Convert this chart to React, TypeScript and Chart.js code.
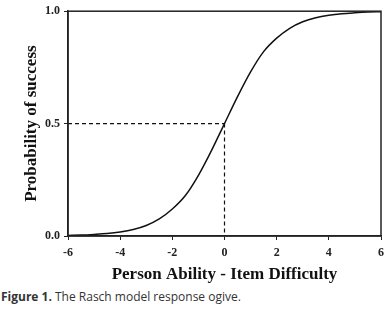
import React, { useEffect, useRef } from "react";
import { Chart, registerables } from "chart.js";

Chart.register(...registerables);

const abilityX = [-6, -5.5, -5, -4.5, -4, -3.5, -3, -2.5, -2, -1.5, -1, -0.5, 0, 0.5, 1, 1.5, 2, 2.5, 3, 3.5, 4, 4.5, 5, 5.5, 6];
const probY = [0.0025, 0.004, 0.007, 0.011, 0.018, 0.029, 0.047, 0.076, 0.12, 0.18, 0.27, 0.38, 0.5, 0.62, 0.73, 0.82, 0.88, 0.924, 0.953, 0.971, 0.982, 0.989, 0.993, 0.996, 0.9975];
const xTicks = [-6, -4, -2, 0, 2, 4, 6];
const yTicks = [0, 0.5, 1];
const guideH = [{ x: -6, y: 0.5 }, { x: 0, y: 0.5 }];
const guideV = [{ x: 0, y: 0.5 }, { x: 0, y: 0 }];
const xTitle = "Person Ability - Item Difficulty";
const yTitle = "Probability of success";

const boxPlugin = {
  id: "box",
  afterDraw(chart: any) {
    const { ctx, chartArea } = chart;
    ctx.save();
    ctx.strokeStyle = "#222";
    ctx.lineWidth = 1.5;
    ctx.strokeRect(chartArea.left, chartArea.top, chartArea.right - chartArea.left, chartArea.bottom - chartArea.top);
    ctx.restore();
  },
};

export default function App() {
  const ref = useRef<HTMLCanvasElement>(null);
  useEffect(() => {
    document.body.style.margin = "0";
    const serifBold = { family: "'Liberation Serif', 'Times New Roman', serif", weight: "bold" as const };
    const chart = new Chart(ref.current!, {
      type: "line",
      data: {
        datasets: [
          {
            data: abilityX.map((x, i) => ({ x, y: probY[i] })),
            borderColor: "#111",
            borderWidth: 1.5,
            pointRadius: 0,
            cubicInterpolationMode: "monotone",
          },
          { data: guideH, borderColor: "#111", borderWidth: 1.2, borderDash: [4, 3], pointRadius: 0 },
          { data: guideV, borderColor: "#111", borderWidth: 1.2, borderDash: [4, 3], pointRadius: 0 },
        ],
      },
      options: {
        animation: false,
        responsive: false,
        layout: { padding: { top: 8, right: 7, left: 21, bottom: 0 } },
        plugins: { legend: { display: false }, tooltip: { enabled: false } },
        scales: {
          x: {
            type: "linear",
            min: -6,
            max: 6,
            afterBuildTicks: (s: any) => { s.ticks = xTicks.map((v) => ({ value: v })); },
            ticks: { color: "#222", font: { ...serifBold, size: 12 }, padding: 6, callback: (v: any) => String(v) },
            grid: { drawOnChartArea: false, drawTicks: true, tickLength: 4, color: "#222" },
            border: { display: true, color: "#222", width: 1.5 },
            title: { display: true, text: xTitle, color: "#111", font: { ...serifBold, size: 17 }, padding: { top: 1, bottom: 0 } },
            afterFit: (s: any) => { s.height = 49; },
          },
          y: {
            type: "linear",
            min: 0,
            max: 1,
            afterBuildTicks: (s: any) => { s.ticks = yTicks.map((v) => ({ value: v })); },
            ticks: { color: "#222", font: { ...serifBold, size: 12 }, padding: 4, callback: (v: any) => Number(v).toFixed(1) },
            grid: { drawOnChartArea: false, drawTicks: true, tickLength: 4, color: "#222" },
            border: { display: true, color: "#222", width: 1.5 },
            title: { display: true, text: yTitle, color: "#111", font: { ...serifBold, size: 17 }, padding: { top: 0, bottom: 0 } },
            afterFit: (s: any) => { s.width = 47; },
          },
        },
      },
      plugins: [boxPlugin],
    } as any);
    return () => chart.destroy();
  }, []);
  return (
    <div style={{ position: "fixed", left: 0, top: 0, width: 390, height: 312, background: "#fff" }}>
      <canvas ref={ref} width={390} height={285} style={{ display: "block" }} />
      <div style={{ position: "absolute", left: 1, top: 288, fontFamily: "'Open Sans', sans-serif", fontSize: 12, color: "#333", whiteSpace: "nowrap" }}>
        <b>Figure 1.</b> The Rasch model response ogive.
      </div>
    </div>
  );
}
